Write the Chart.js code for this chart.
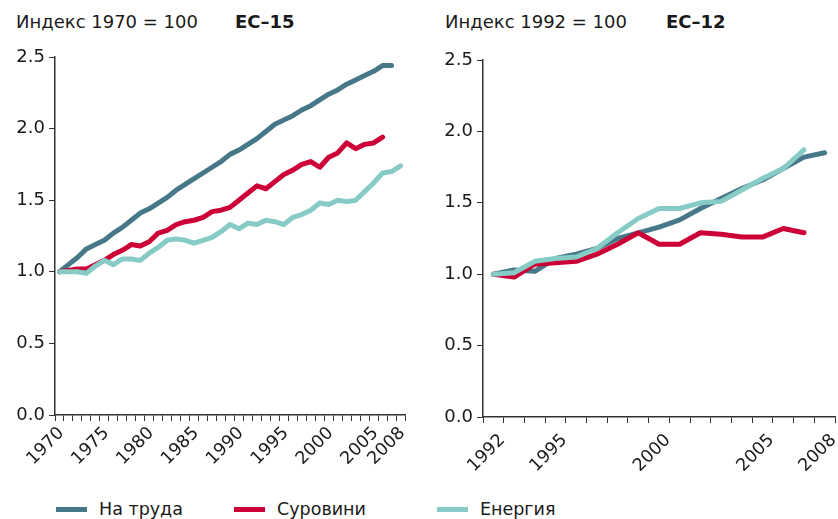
<!DOCTYPE html>
<html>
<head>
<meta charset="utf-8">
<script src="https://cdn.jsdelivr.net/npm/chart.js@4"></script>
<style>
  html, body { margin:0; padding:0; background:#fff; }
  body { width:838px; height:519px; position:relative; overflow:hidden; font-family:"DejaVu Sans", Verdana, sans-serif; color:#1a1a1a; }
  .t { position:absolute; font-size:18px; line-height:18px; white-space:nowrap; }
  .lg { position:absolute; font-size:17.5px; line-height:18px; white-space:nowrap; }
  .b { font-weight:bold; }
  .sw { position:absolute; height:5px; width:31px; }
  .cv { position:absolute; }
</style>
</head>
<body>
<div class="t" style="left:16px;top:13px;">Индекс 1970 = 100</div>
<div class="t b" style="left:235px;top:13px;">ЕС–15</div>
<div class="t" style="left:445px;top:13px;">Индекс 1992 = 100</div>
<div class="t b" style="left:666px;top:13px;">ЕС–12</div>

<div class="cv" style="left:0;top:40px;width:420px;height:435px;"><canvas id="c1"></canvas></div>
<div class="cv" style="left:425px;top:40px;width:413px;height:437px;"><canvas id="c2"></canvas></div>

<div class="sw" style="left:56px;top:507px;background:#47788a;"></div>
<div class="lg" style="left:99px;top:500px;">На труда</div>
<div class="sw" style="left:234px;top:507px;background:#cc0036;"></div>
<div class="lg" style="left:277px;top:500px;">Суровини</div>
<div class="sw" style="left:437px;top:507px;background:#86cbc5;"></div>
<div class="lg" style="left:480px;top:500px;">Енергия</div>

<script>
// ---- Data: EC-15, index 1970 = 1.0 ----
const yearsA = ['1970','1971','1972','1973','1974','1975','1976','1977','1978','1979',
                '1980','1981','1982','1983','1984','1985','1986','1987','1988','1989',
                '1990','1991','1992','1993','1994','1995','1996','1997','1998','1999',
                '2000','2001','2002','2003','2004','2005','2006','2007','2008'];
const labourA = [1.00,1.05,1.10,1.16,1.19,1.22,1.27,1.31,1.36,1.41,
                 1.44,1.48,1.52,1.57,1.61,1.65,1.69,1.73,1.77,1.82,
                 1.85,1.89,1.93,1.98,2.03,2.06,2.09,2.13,2.16,2.20,
                 2.24,2.27,2.31,2.34,2.37,2.40,2.44,2.44,null];
const materialsA = [1.00,1.01,1.02,1.02,1.05,1.08,1.12,1.15,1.19,1.18,
                    1.21,1.27,1.29,1.33,1.35,1.36,1.38,1.42,1.43,1.45,
                    1.50,1.55,1.60,1.58,1.63,1.68,1.71,1.75,1.77,1.73,
                    1.80,1.83,1.90,1.86,1.89,1.90,1.94,null,null];
const energyA = [1.00,1.00,1.00,0.99,1.04,1.08,1.05,1.09,1.09,1.08,
                 1.13,1.17,1.22,1.23,1.22,1.20,1.22,1.24,1.28,1.33,
                 1.30,1.34,1.33,1.36,1.35,1.33,1.38,1.40,1.43,1.48,
                 1.47,1.50,1.49,1.50,1.56,1.62,1.69,1.70,1.74];
const tickLabelsA = ['1970','1975','1980','1985','1990','1995','2000','2005','2008'];

// ---- Data: EC-12, index 1992 = 1.0 ----
const yearsB = ['1992','1993','1994','1995','1996','1997','1998','1999','2000',
                '2001','2002','2003','2004','2005','2006','2007','2008'];
const labourB = [1.00,1.03,1.02,1.11,1.14,1.18,1.25,1.29,1.33,
                 1.38,1.46,1.53,1.60,1.66,1.74,1.82,1.85];
const materialsB = [1.00,0.98,1.07,1.08,1.09,1.14,1.21,1.29,1.21,
                    1.21,1.29,1.28,1.26,1.26,1.32,1.29,null];
const energyB = [1.00,1.01,1.09,1.11,1.12,1.18,1.29,1.39,1.46,
                 1.46,1.50,1.51,1.59,1.67,1.74,1.87,null];
const tickLabelsB = ['1992','1995','2000','2005','2008'];

const yTicks = [0, 0.5, 1.0, 1.5, 2.0, 2.5];

const seriesNames = ['На труда','Суровини','Енергия'];
const colors = ['#47788a','#cc0036','#86cbc5'];

function makeChart(id, years, labour, materials, energy, tickLabels, geo) {
  const ds = (label, data, color, order) => ({
    label, data, borderColor: color, backgroundColor: color,
    borderWidth: 5, pointRadius: 0, pointHoverRadius: 0, tension: 0,
    borderCapStyle: 'round', borderJoinStyle: 'round', fill: false, order, spanGaps: false
  });
  return new Chart(document.getElementById(id), {
    type: 'line',
    data: {
      labels: years,
      datasets: [
        ds(seriesNames[0], labour, colors[0], 2),
        ds(seriesNames[1], materials, colors[1], 1),
        ds(seriesNames[2], energy, colors[2], 0)
      ]
    },
    options: {
      responsive: true, maintainAspectRatio: false, animation: false,
      devicePixelRatio: 1,
      layout: { padding: { top: geo.top, right: geo.right, left: 0, bottom: 0 } },
      plugins: { legend: { display: false }, tooltip: { enabled: false }, title: { display: false } },
      scales: {
        x: {
          type: 'category', offset: true,
          grid: { display: true, drawOnChartArea: false, drawTicks: true, tickLength: 6,
                  color: '#333', lineWidth: 1, offset: true },
          border: { display: true, color: '#333', width: 1.5 },
          ticks: {
            autoSkip: false, maxRotation: 45, minRotation: 45, padding: geo.xpad, labelOffset: geo.xoff,
            color: '#1a1a1a', font: { family: 'DejaVu Sans', size: 17.5 },
            callback: function(v) { const l = this.getLabelForValue(v); return tickLabels.includes(l) ? l : ''; }
          },
          afterFit: s => { s.height = 60; s.paddingLeft = 0; s.paddingRight = 0; }
        },
        y: {
          min: 0, max: 2.5,
          afterBuildTicks: s => { s.ticks = yTicks.map(v => ({ value: v })); },
          grid: { display: true, drawOnChartArea: false, drawTicks: true, tickLength: 6, color: '#333', lineWidth: 1 },
          border: { display: true, color: '#333', width: 1.5 },
          ticks: {
            padding: 4, color: '#1a1a1a', font: { family: 'DejaVu Sans', size: 18 },
            callback: v => Number(v).toFixed(1)
          },
          afterFit: s => { s.width = geo.yw; s.paddingTop = 0; s.paddingBottom = 0; }
        }
      }
    }
  });
}

makeChart('c1', yearsA, labourA, materialsA, energyA, tickLabelsA, { top: 17, right: 15, yw: 55, xpad: 2, xoff: 2 });
makeChart('c2', yearsB, labourB, materialsB, energyB, tickLabelsB, { top: 20, right: 3, yw: 58, xpad: 7, xoff: 9 });
</script>
</body>
</html>
